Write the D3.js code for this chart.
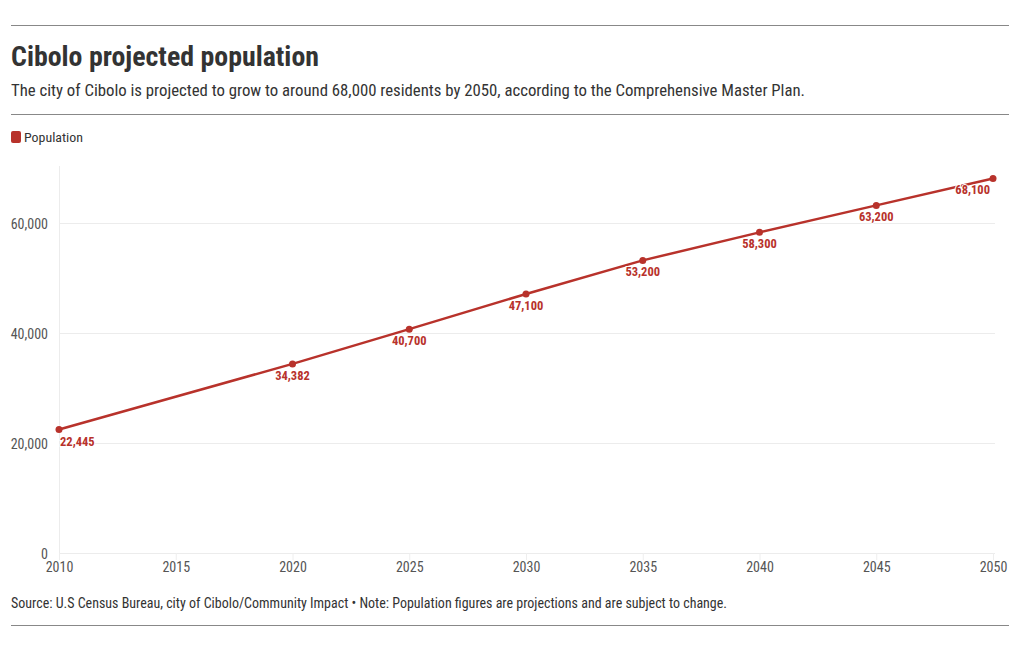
<!DOCTYPE html>
<html>
<head>
<meta charset="utf-8">
<script src="https://cdn.jsdelivr.net/npm/d3@7"></script>
<style>
  body { margin: 0; background: #fff; }
  svg { display: block; }
  text { font-family: "Roboto Condensed", Roboto, sans-serif; }
</style>
</head>
<body>
<svg id="chart" width="1020" height="650"></svg>
<script>
const years = [2010, 2020, 2025, 2030, 2035, 2040, 2045, 2050];
const population = [22445, 34382, 40700, 47100, 53200, 58300, 63200, 68100];
const xTicks = [2010, 2015, 2020, 2025, 2030, 2035, 2040, 2045, 2050];
const yTicks = [0, 20000, 40000, 60000];
const seriesName = "Population";
const title = "Cibolo projected population";
const subtitle = "The city of Cibolo is projected to grow to around 68,000 residents by 2050, according to the Comprehensive Master Plan.";
const source = "Source: U.S Census Bureau, city of Cibolo/Community Impact \u2022 Note: Population figures are projections and are subject to change.";

const svg = d3.select("#chart");
const W = 1020, red = "#b8322b", textCol = "#333", tickCol = "#555";
const m = { left: 59, right: 27, top: 168, bottom: 97 };

// rules
[25, 114, 625].forEach(yy => svg.append("line").attr("x1", 11).attr("x2", 1009)
  .attr("y1", yy + 0.5).attr("y2", yy + 0.5).attr("stroke", "#888").attr("stroke-width", 1));

svg.append("text").attr("x", 11).attr("y", 66).text(title)
  .attr("font-size", 27).attr("font-weight", 700).attr("fill", textCol)
  .attr("textLength", 308).attr("lengthAdjust", "spacingAndGlyphs");
svg.append("text").attr("x", 11).attr("y", 96).text(subtitle)
  .attr("font-size", 16).attr("fill", textCol)
  .attr("textLength", 794).attr("lengthAdjust", "spacingAndGlyphs");

// legend
svg.append("rect").attr("x", 11).attr("y", 131).attr("width", 10).attr("height", 12)
  .attr("rx", 2).attr("fill", red);
svg.append("text").attr("x", 24).attr("y", 142).text(seriesName)
  .attr("font-size", 13).attr("fill", textCol)
  .attr("textLength", 59).attr("lengthAdjust", "spacingAndGlyphs");

const x = d3.scaleLinear().domain([2010, 2050]).range([m.left, W - m.right]);
const y = d3.scaleLinear().domain([0, 70000]).range([553, 168]);

const g = svg.append("g");
// horizontal gridlines + y labels
g.append("g").attr("transform", `translate(${m.left},0)`)
  .call(d3.axisLeft(y).tickValues(yTicks).tickSize(-(995 - m.left)).tickFormat(d3.format(",")))
  .call(s => s.select(".domain").remove())
  .call(s => s.selectAll(".tick line").attr("stroke", "#ececec").attr("x1", 0).attr("x2", 995 - m.left))
  .call(s => s.selectAll(".tick text").attr("x", -11).attr("dy", "0.38em")
      .attr("font-size", 14).attr("fill", tickCol));

// vertical line at left
g.append("line").attr("x1", m.left + 0.5).attr("x2", m.left + 0.5).attr("y1", 166).attr("y2", 553)
  .attr("stroke", "#ececec");

// x axis
g.append("g").attr("transform", "translate(0,553)")
  .call(d3.axisBottom(x).tickValues(xTicks).tickFormat(d3.format("d")).tickSize(7))
  .call(s => s.select(".domain").remove())
  .call(s => s.selectAll(".tick line").attr("stroke", "#eeeeee"))
  .call(s => s.selectAll(".tick text").attr("y", 9).attr("dy", "0.71em")
      .attr("font-size", 14).attr("fill", tickCol));

const data = years.map((yr, i) => ({ yr, v: population[i] }));
g.append("path").datum(data)
  .attr("fill", "none").attr("stroke", red).attr("stroke-width", 2.5)
  .attr("d", d3.line().x(d => x(d.yr)).y(d => y(d.v)));
g.selectAll("circle.pt").data(data).join("circle")
  .attr("cx", d => x(d.yr)).attr("cy", d => y(d.v)).attr("r", 3.5).attr("fill", red);
const last = data.length - 1;
g.selectAll("text.lbl").data(data).join("text")
  .attr("x", (d, i) => i === 0 ? x(d.yr) + 1 : (i === last ? x(d.yr) - 3 : x(d.yr)))
  .attr("y", d => y(d.v) + 16)
  .attr("text-anchor", (d, i) => i === 0 ? "start" : (i === last ? "end" : "middle"))
  .attr("font-size", 12.5).attr("font-weight", 700).attr("fill", red)
  .attr("stroke", "#fff").attr("stroke-width", 2).attr("paint-order", "stroke")
  .text(d => d3.format(",")(d.v));

svg.append("text").attr("x", 11).attr("y", 608).text(source)
  .attr("font-size", 14).attr("fill", textCol)
  .attr("textLength", 716).attr("lengthAdjust", "spacingAndGlyphs");
</script>
</body>
</html>
